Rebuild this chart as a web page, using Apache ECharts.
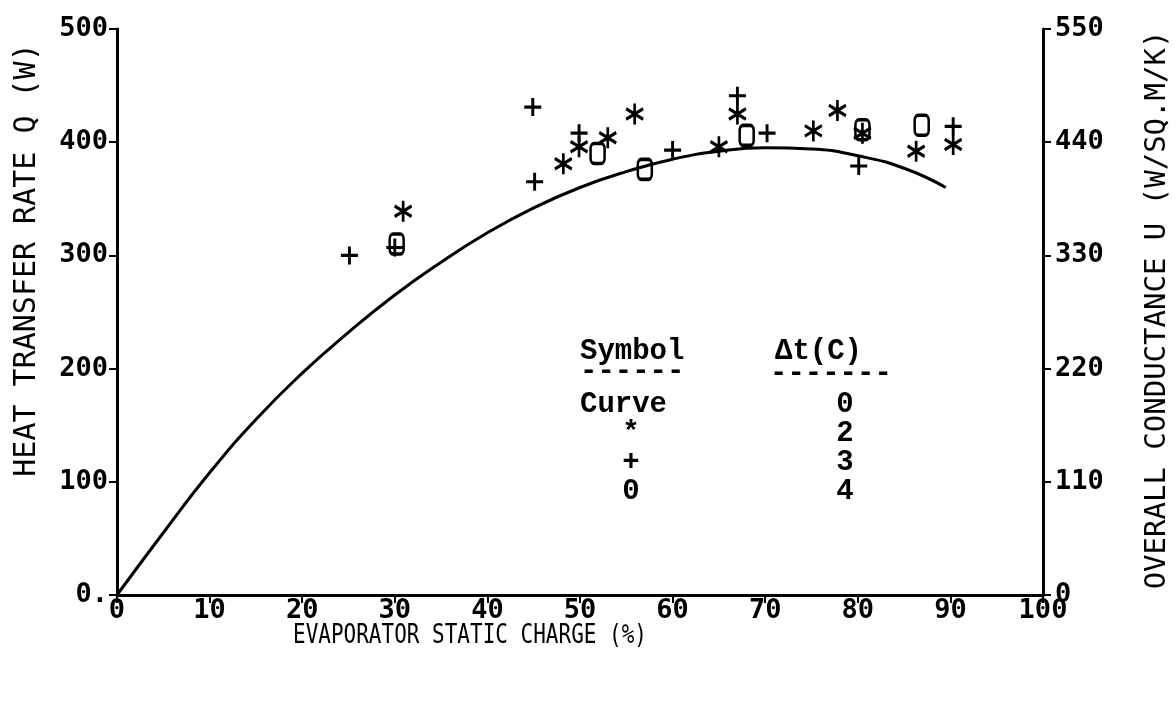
<!DOCTYPE html>
<html>
<head>
<meta charset="utf-8">
<script src="https://cdn.jsdelivr.net/npm/echarts@6/dist/echarts.min.js"></script>
<style>
html,body{margin:0;padding:0;background:#fff;}
#chart{width:1176px;height:713px;}
</style>
</head>
<body>
<div id="chart"></div>
<script>
// ---- data ----
const curveX = [0, 5, 10, 15, 20, 25, 30, 35, 40, 45, 50, 55, 60, 65, 70, 75, 80, 85, 89.5];
const curveY = [0, 55, 108, 155, 196, 232, 265, 294, 320, 342, 360, 374, 385, 392, 395, 394, 388, 377, 360];

const starX = [30.9, 48.2, 49.9, 53.0, 55.9, 65.0, 67.0, 75.2, 77.8, 80.5, 86.3, 90.3];
const starY = [339, 381, 396, 404, 425, 396, 425, 410, 428, 408, 392, 398];

const plusX = [25.1, 30.0, 44.9, 45.1, 49.9, 60.0, 67.0, 70.2, 80.1, 90.3];
const plusY = [300, 307, 431, 365, 408, 393, 441, 408, 379, 414];

const zeroX = [30.2, 51.9, 57.0, 68.0, 80.5, 86.9];
const zeroY = [310, 390, 376, 406, 411, 415];

const leftTicks = [0, 100, 200, 300, 400, 500];
const rightTicks = [0, 110, 220, 330, 440, 550];
const xTicks = [0, 10, 20, 30, 40, 50, 60, 70, 80, 90, 100];

const legendRows = [
  ['Curve', '0'],
  ['*', '2'],
  ['+', '3'],
  ['0', '4']
];

function pairs(xs, ys) { return xs.map((x, i) => [x, ys[i]]); }

const MONO = 'DejaVu Sans Mono';
const TYPE = 'Liberation Mono';

const axisStyle = {
  axisLine: { show: true, lineStyle: { color: '#000', width: 3 } },
  axisTick: { show: true, length: 8, lineStyle: { color: '#000', width: 2 } },
  splitLine: { show: false },
  axisLabel: { color: '#000', fontFamily: MONO, fontSize: 27, fontWeight: 'bold' }
};

const markStyle = { color: 'rgba(0,0,0,0)', borderColor: '#000', borderWidth: 3, opacity: 1 };

const chart = echarts.init(document.getElementById('chart'));
const option = {
  backgroundColor: '#fff',
  animation: false,
  grid: { left: 117, right: 133, top: 29, bottom: 118 },
  xAxis: Object.assign({
    type: 'value', min: xTicks[0], max: xTicks[xTicks.length - 1], interval: 10
  }, axisStyle, { axisLabel: Object.assign({}, axisStyle.axisLabel, { margin: 2 }) }),
  yAxis: [
    Object.assign({
      type: 'value', min: leftTicks[0], max: leftTicks[leftTicks.length - 1], interval: 100
    }, axisStyle, {
      axisLabel: Object.assign({}, axisStyle.axisLabel, {
        margin: 9,
        formatter: v => v === 0 ? '0.' : String(v)
      })
    }),
    Object.assign({
      type: 'value', position: 'right', min: rightTicks[0], max: rightTicks[rightTicks.length - 1], interval: 110
    }, axisStyle, {
      axisLabel: Object.assign({}, axisStyle.axisLabel, { margin: 12 })
    })
  ],
  series: [
    {
      type: 'line', data: pairs(curveX, curveY), smooth: true, showSymbol: false,
      lineStyle: { color: '#000', width: 3 }
    },
    {
      type: 'scatter', data: pairs(starX, starY),
      symbol: 'path://M5,0L5,10M0.67,2.5L9.33,7.5M0.67,7.5L9.33,2.5',
      symbolSize: [17, 21],
      itemStyle: markStyle
    },
    {
      type: 'scatter', data: pairs(plusX, plusY),
      symbol: 'path://M0,5L10,5M5,0L5,10',
      symbolSize: [17, 18],
      itemStyle: markStyle
    },
    {
      type: 'scatter', data: pairs(zeroX, zeroY),
      symbol: 'roundRect',
      symbolSize: [14, 20],
      itemStyle: markStyle
    }
  ],
  graphic: [
    { type: 'text', x: 27, y: 260, rotation: Math.PI / 2,
      style: { text: 'HEAT TRANSFER RATE Q (W)', fill: '#000', font: '30px "' + MONO + '"', textAlign: 'center', textVerticalAlign: 'middle' } },
    { type: 'text', x: 1157, y: 310, rotation: Math.PI / 2,
      style: { text: 'OVERALL CONDUCTANCE U (W/SQ.M/K)', fill: '#000', font: '29px "' + MONO + '"', textAlign: 'center', textVerticalAlign: 'middle' } },
    { type: 'text', x: 470, y: 636, scaleY: 1.3,
      style: { text: 'EVAPORATOR STATIC CHARGE (%)', fill: '#000', font: '21px "' + MONO + '"', textAlign: 'center', textVerticalAlign: 'middle' } },
    { type: 'text', x: 580, y: 352,
      style: { text: 'Symbol', fill: '#000', font: 'bold 29px "' + TYPE + '"', textAlign: 'left', textVerticalAlign: 'middle' } },
    { type: 'text', x: 580, y: 372,
      style: { text: '------', fill: '#000', font: 'bold 29px "' + TYPE + '"', textAlign: 'left', textVerticalAlign: 'middle' } },
    { type: 'text', x: 775, y: 352,
      style: { text: '\u0394t(C)', fill: '#000', font: 'bold 29px "' + TYPE + '"', textAlign: 'left', textVerticalAlign: 'middle' } },
    { type: 'text', x: 770, y: 374,
      style: { text: '-------', fill: '#000', font: 'bold 29px "' + TYPE + '"', textAlign: 'left', textVerticalAlign: 'middle' } }
  ].concat(legendRows.map((r, i) => ({
    type: 'group', children: [
      { type: 'text', x: i === 0 ? 580 : 631, y: 405 + i * 29,
        style: { text: r[0], fill: '#000', font: 'bold 29px "' + TYPE + '"', textAlign: i === 0 ? 'left' : 'center', textVerticalAlign: 'middle' } },
      { type: 'text', x: 845, y: 405 + i * 29,
        style: { text: r[1], fill: '#000', font: 'bold 29px "' + TYPE + '"', textAlign: 'center', textVerticalAlign: 'middle' } }
    ]
  })))
};
chart.setOption(option);
</script>
</body>
</html>
